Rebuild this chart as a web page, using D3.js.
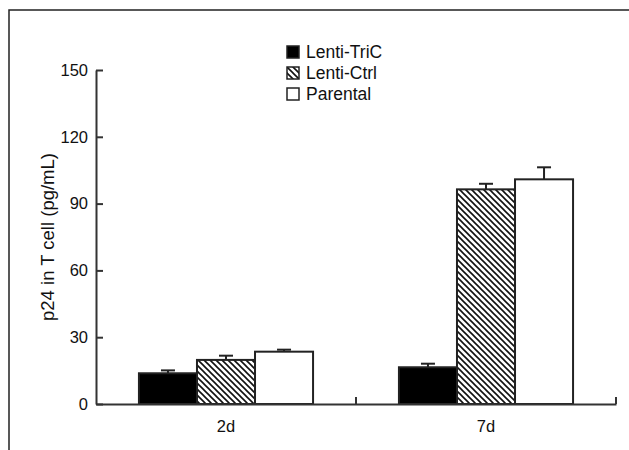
<html>
<head>
    <script src="https://d3js.org/d3.v7.min.js" charset="utf-8"></script>
    <style>
        body { margin: 0; background: #fff; }
        text { font-family: "Liberation Sans", Arial, sans-serif; fill: #111; }
    </style>
</head>
<body>
<script type="text/javascript">
    var width = 629;
    var height = 450;

    // data
    var days = ["2d", "7d"];
    var series = ["Lenti-TriC", "Lenti-Ctrl", "Parental"];
    var means = [[13.8, 19.8, 23.5], [16.5, 96.4, 100.9]];
    var errs = [[1.3, 1.9, 0.9], [1.6, 2.5, 5.4]];
    var yTicks = [0, 30, 60, 90, 120, 150];

    var margin = { left: 96, right: 13, top: 70, bottom: 46 };

    var data = [];
    days.forEach((d, i) => {
        series.forEach((s, j) => {
            data.push({ day: d, series: s, value: means[i][j], err: errs[i][j] });
        });
    });

    const svg = d3.select("body").append("svg")
        .attr("width", width)
        .attr("height", height);

    // hatch pattern for Lenti-Ctrl
    var defs = svg.append("defs");
    var pat = defs.append("pattern")
        .attr("id", "hatch")
        .attr("patternUnits", "userSpaceOnUse")
        .attr("width", 6)
        .attr("height", 6);
    pat.append("rect").attr("width", 6).attr("height", 6).attr("fill", "#fff");
    pat.append("path")
        .attr("d", "M-1,-1 L7,7 M-4,2 L1,7 M5,-1 L7,1")
        .attr("stroke", "#111")
        .attr("stroke-width", 1.6);

    // outer frame
    svg.append("path")
        .attr("d", "M9,450 V10 H629")
        .attr("fill", "none")
        .attr("stroke", "#222")
        .attr("stroke-width", 1.5);

    var x = d3.scaleBand(days, [margin.left, width - margin.right]);
    var xSub = d3.scaleBand(series, [0, x.bandwidth()])
        .paddingInner(0)
        .paddingOuter(0.74);
    var y = d3.scaleLinear([0, 150], [height - margin.bottom, margin.top]);

    var color = { "Lenti-TriC": "#000", "Lenti-Ctrl": "url(#hatch)", "Parental": "#fff" };

    // error bars (upper only)
    var eb = svg.append("g").attr("stroke", "#222").attr("stroke-width", 2);
    data.forEach(d => {
        var cx = x(d.day) + xSub(d.series) + xSub.bandwidth() / 2;
        eb.append("line")
            .attr("x1", cx).attr("x2", cx)
            .attr("y1", y(d.value)).attr("y2", y(d.value + d.err));
        eb.append("line")
            .attr("x1", cx - 7).attr("x2", cx + 7)
            .attr("y1", y(d.value + d.err)).attr("y2", y(d.value + d.err));
    });

    svg.append("g")
        .selectAll("rect")
        .data(data)
        .join("rect")
            .attr("x", d => x(d.day) + xSub(d.series))
            .attr("y", d => y(d.value))
            .attr("width", xSub.bandwidth())
            .attr("height", d => y(0) - y(d.value))
            .attr("fill", d => color[d.series])
            .attr("stroke", "#222")
            .attr("stroke-width", 2);

    // y axis
    var yAxis = d3.axisLeft(y)
        .tickValues(yTicks)
        .tickSize(-7)
        .tickSizeOuter(0)
        .tickPadding(8);
    var gy = svg.append("g")
        .attr("transform", `translate(${margin.left},0)`)
        .call(yAxis);
    gy.selectAll("path, line").attr("stroke", "#333").attr("stroke-width", 2);
    gy.selectAll("text").style("font-size", "16.5px").attr("fill", "#111");

    // x axis
    var xAxis = d3.axisBottom(x).tickSize(0).tickSizeOuter(0).tickPadding(16);
    var gx = svg.append("g")
        .attr("transform", `translate(0,${y(0)})`)
        .call(xAxis);
    gx.select("path").attr("stroke", "#333").attr("stroke-width", 2);
    gx.selectAll("text").style("font-size", "16.5px").attr("fill", "#111");
    // boundary ticks pointing up
    gx.selectAll(".bound")
        .data(days.slice(1).map(d => x(d)).concat([x.range()[1]]))
        .join("line")
            .attr("x1", d => d).attr("x2", d => d)
            .attr("y1", 0).attr("y2", -7)
            .attr("stroke", "#333")
            .attr("stroke-width", 2);

    // y title
    svg.append("text")
        .attr("transform", `translate(54,${(y(0) + y(150)) / 2}) rotate(-90)`)
        .attr("text-anchor", "middle")
        .style("font-size", "18.5px")
        .text("p24 in T cell (pg/mL)");

    // legend
    var legend = svg.append("g")
        .attr("transform", "translate(287,46)")
        .selectAll("g")
        .data(series)
        .join("g")
            .attr("transform", (d, i) => `translate(0,${i * 21})`);
    legend.append("rect")
        .attr("width", 12).attr("height", 12)
        .attr("fill", d => color[d])
        .attr("stroke", "#222")
        .attr("stroke-width", 1.5);
    legend.append("text")
        .attr("x", 19)
        .attr("y", 12)
        .style("font-size", "17.5px")
        .text(d => d);
</script>
</body>
</html>
